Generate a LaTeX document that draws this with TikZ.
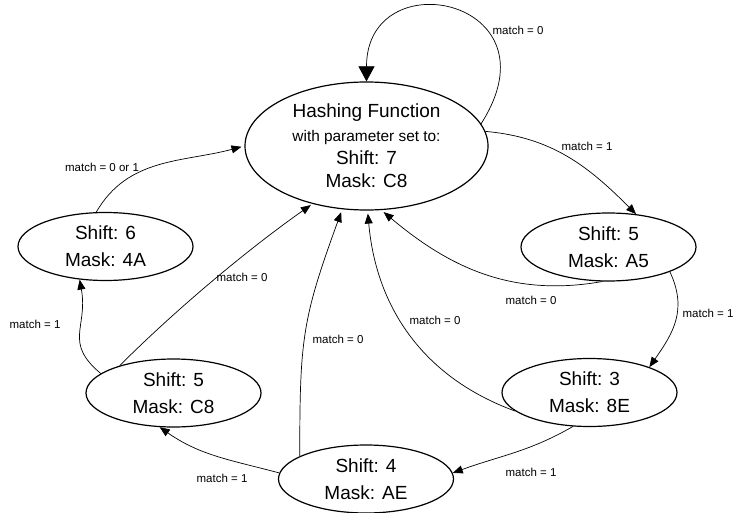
\documentclass[tikz,border=0pt]{standalone}
\usepackage{fontspec}
\setmainfont{Liberation Sans}
\usetikzlibrary{arrows.meta}
\usetikzlibrary{shapes.geometric}

\begin{document}
\begin{tikzpicture}[x=1pt,y=1pt,
    state/.style={draw,ellipse,line width=1.2pt,inner sep=0pt,minimum width=175pt,minimum height=68pt,align=center,font=\fontsize{19}{27}\selectfont},
    lbl/.style={font=\fontsize{11.5}{13}\selectfont,inner sep=0pt},
    trans/.style={-{Triangle[length=10pt,width=8pt]},line width=0.7pt}]

    % fix the page size
    \useasboundingbox (0,0) rectangle (735,512);

    % states
    \node[state,minimum width=243pt,minimum height=128pt,font=\fontsize{19}{23}\selectfont] (hash) at (366.5,366)
        {Hashing Function\\[1pt]{\fontsize{15.4}{18}\selectfont with parameter set to:}\\Shift: 7\\Mask: C8};
    \node[state] (st6) at (105.5,265.5) {Shift: 6\\Mask: 4A};
    \node[state] (st5a) at (608.5,265) {Shift: 5\\Mask: A5};
    \node[state] (st5c) at (173.5,119) {Shift: 5\\Mask: C8};
    \node[state] (st3) at (589.5,119.5) {Shift: 3\\Mask: 8E};
    \node[state] (st4) at (366,33) {Shift: 4\\Mask: AE};

    % transitions
    \draw[trans,-{Triangle[length=15pt,width=16pt]}] (hash.11) .. controls +(80,125) and +(0,122) .. (hash.north);
    \draw[trans] (hash.7) to[out=-5,in=135] (st5a.50);
    \draw[trans,shorten >=3pt] (st5a.-100) to[out=190,in=-40] (hash.-77);
    \draw[trans] (st5a.-22) to[out=-65,in=55,looseness=1.1] (st3.23);
    \draw[trans,shorten >=3pt] (st3.194) to[out=160,in=-85] (hash.-89);
    \draw[trans] (st3.-116) to[out=-150,in=20] (st4.4);
    \draw[trans,shorten >=3pt] (st4.161) to[out=90,in=-110,looseness=1.2] (hash.-111);
    \draw[trans] (st4.176) to[out=165,in=-35] (st5c.-112);
    \draw[trans,shorten >=2pt] (st5c.153) to[out=45,in=-145,looseness=0.8] (hash.-133);
    \draw[trans] (st5c.165) to[out=140,in=-80,looseness=1.3] (st6.-128);
    \draw[trans,shorten >=3pt] (st6.105) to[out=60,in=195] (hash.west);

    % labels
    \foreach \p/\v [count=\i] in {{518,482}/0, {587,366}/1, {531,212}/0, {708,199}/1,
            {435,192}/0, {338,173}/0, {222,34}/1, {531,40}/1, {242,235}/0, {35,188}/1, {102,345}/0 or 1}
        \node[lbl] (m\i) at (\p) {match = \v};
\end{tikzpicture}
\end{document}
